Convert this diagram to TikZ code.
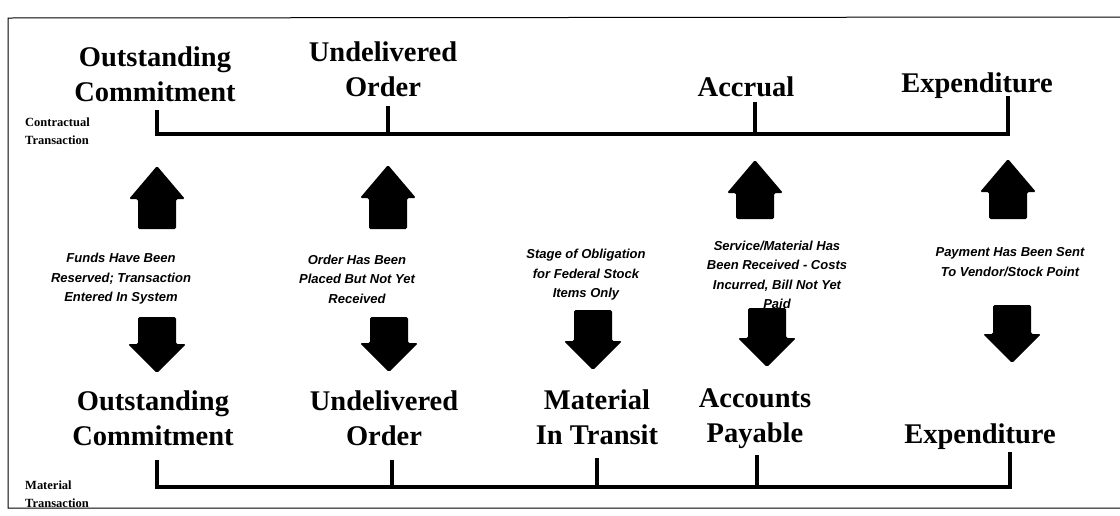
\documentclass[tikz,border=0pt]{standalone}
\usepackage{fontspec}
\setmainfont{Liberation Serif}
\newfontfamily\notefont{Liberation Sans}
\usetikzlibrary{positioning}
\tikzset{
  stage/.style={font=\fontsize{28.5}{35}\selectfont\bfseries, align=center, inner sep=0pt},
  note/.style={font=\notefont\fontsize{13}{19.5}\selectfont\bfseries\itshape, align=center, inner sep=0pt},
  side/.style={font=\fontsize{12.5}{17.5}\selectfont\bfseries, align=left, anchor=west, inner sep=0pt},
  bar/.style={line width=3.2pt},
  frame/.style={line width=1pt},
  block/.style={fill=black, rounded corners=1.5pt}
}

\begin{document}
\begin{tikzpicture}[x=1pt,y=-1pt]
    \useasboundingbox (0,0) rectangle (1120,515);
    \draw[frame] (1120,17) -- (8,18) -- (8,508) -- (1120,508);

    % contractual transaction
    \node (tOC) [stage] at (155,74) {Outstanding\\Commitment};
    \node (tUO) [stage] at (383,69) {Undelivered\\Order};
    \node (tAcc) [stage] at (746,87) {Accrual};
    \node (tExp) [stage] at (977,86) {Expenditure};
    \node (tSide) [side] at (25,131) {Contractual\\Transaction};

    \coordinate (t1) at (157,110);
    \coordinate (t2) at (388,106);
    \coordinate (t3) at (755,102);
    \coordinate (t4) at (1008,96);
    \coordinate (tb) at (1008,134);
    \draw[bar] (t1) |- (tb) -- (t4);
    \draw[bar] (t2) -- (t2 |- tb);
    \draw[bar] (t3) -- (t3 |- tb);

    % notes
    \node (n1) [note] at (121,279) {Funds Have Been\\Reserved; Transaction\\Entered In System};
    \node (n2) [note] at (357,279) {Order Has Been\\Placed But Not Yet\\Received};
    \node (n3) [note] at (586,275) {Stage of Obligation\\for Federal Stock\\Items Only};
    \node (n4) [note] at (777,275) {Service/Material Has\\Been Received - Costs\\Incurred, Bill Not Yet\\Paid};
    \node (n5) [note] at (1010,262) {Payment Has Been Sent\\To Vendor/Stock Point};

    % block arrows
    \foreach \x/\t/\b in {157/166/229, 388/165/229, 755/160/219, 1008/159/219}
      \fill[block] (\x-28,\t+33) -- (\x,\t) -- (\x+28,\t+33) -- (\x+19,\t+33)
        -- (\x+19,\b) -- (\x-19,\b) -- (\x-19,\t+33) -- cycle;
    \foreach \x/\t/\b in {157/317/373, 389/317/372, 593/310/370, 767/308/367, 1012/305/363}
      \fill[block] (\x-19,\t) -- (\x+19,\t) -- (\x+19,\b-29) -- (\x+29,\b-29)
        -- (\x,\b) -- (\x-29,\b-29) -- (\x-19,\b-29) -- cycle;

    % material transaction
    \node (bOC) [stage] at (153,418) {Outstanding\\Commitment};
    \node (bUO) [stage] at (384,418) {Undelivered\\Order};
    \node (bMIT) [stage] at (597,417) {Material\\In Transit};
    \node (bAP) [stage] at (755,419) {Accounts\\Payable};
    \node (bExp) [stage] at (980,437) {Expenditure};
    \node (bSide) [side] at (25,494) {Material\\Transaction};

    \coordinate (s1) at (157,460);
    \coordinate (s2) at (392,460);
    \coordinate (s3) at (597,458);
    \coordinate (s4) at (757,455);
    \coordinate (s5) at (1010,452);
    \coordinate (sb) at (1010,487);
    \draw[bar] (s1) |- (sb) -- (s5);
    \draw[bar] (s2) -- (s2 |- sb);
    \draw[bar] (s3) -- (s3 |- sb);
    \draw[bar] (s4) -- (s4 |- sb);
\end{tikzpicture}
\end{document}
